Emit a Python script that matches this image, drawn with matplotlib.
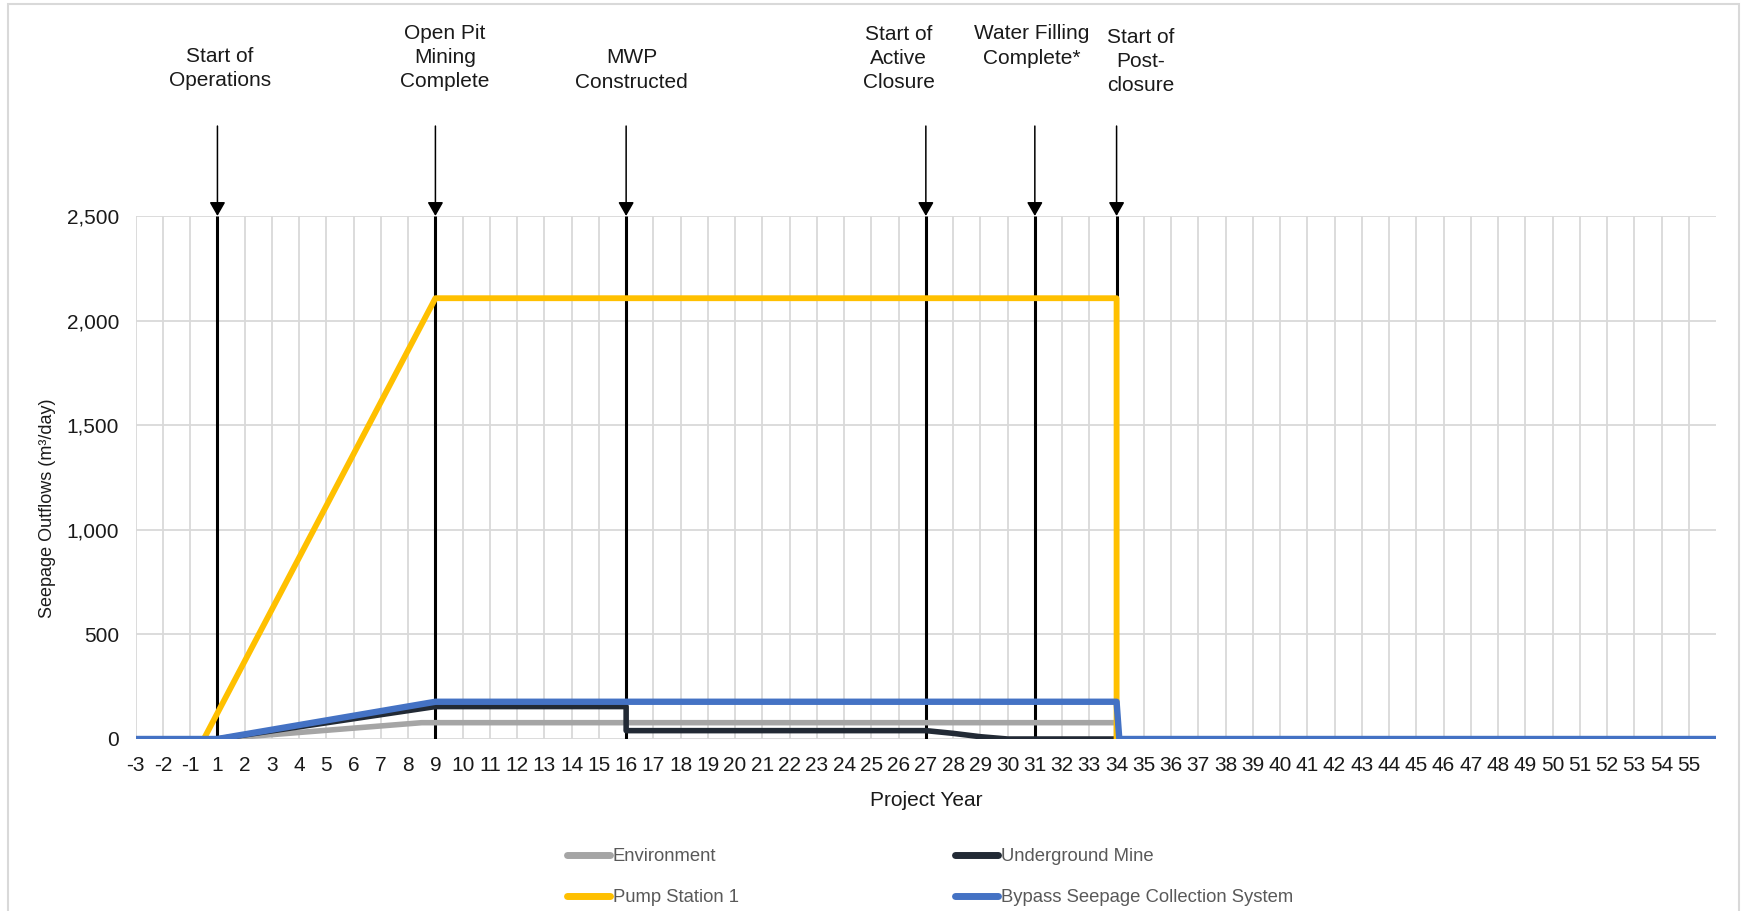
import matplotlib
matplotlib.use("Agg")
import matplotlib.pyplot as plt
from matplotlib.patches import Rectangle
from matplotlib import font_manager

# ---------------------------------------------------------------- data
# category labels on the x axis (there is no year 0)
year_labels = [-3, -2, -1] + list(range(1, 56))

env_years = [-3, 1, 8.5, 34, 34, 56]
env_flow = [0, 0, 78, 78, 0, 0]

ug_years = [-3, 1, 9, 16, 16, 27, 28, 29, 30, 34, 56]
ug_flow = [0, 0, 155, 155, 40, 40, 27, 11, 0, 0, 0]

ps1_years = [-3, 0, 9, 34, 34, 56]
ps1_flow = [0, 0, 2107, 2107, 0, 0]

bypass_years = [-3, 1, 9, 34, 34.1, 56]
bypass_flow = [0, 0, 178, 178, 0, 0]

event_years = [1, 9, 16, 27, 31, 34]
event_labels = ["Start of\nOperations", "Open Pit\nMining\nComplete",
                "MWP\nConstructed", "Start of\nActive\nClosure",
                "Water Filling\nComplete*", "Start of\nPost-\nclosure"]

y_ticks = [0, 500, 1000, 1500, 2000, 2500]


def cat_pos(year):
    """Map a project year onto the category axis (-3,-2,-1,1,2,...)."""
    if year <= -1:
        return year + 3
    if year >= 1:
        return year + 2
    return 2 + (year + 1) / 2.0


# ---------------------------------------------------------------- fonts
avail = {f.name for f in font_manager.fontManager.ttflist}
main_font = "Liberation Sans" if "Liberation Sans" in avail else "DejaVu Sans"
plt.rcParams["font.family"] = [main_font, "DejaVu Sans"]

TXT = "#1a1a1a"

fig = plt.figure(figsize=(17.43, 9.11), dpi=100)
W, H = 1743, 911
AX_L, AX_R, AX_B, AX_T = 135.7, 1716.0, 739.0, 216.0
ax = fig.add_axes([AX_L / W, 1 - AX_B / H, (AX_R - AX_L) / W, (AX_B - AX_T) / H])

# outer chart border
fig.add_artist(Rectangle((8 / W, -0.05), (1739 - 8) / W, 1 - 4 / H + 0.05,
                         transform=fig.transFigure, fill=False,
                         edgecolor="#d9d9d9", lw=1.5))

ax.set_xlim(0, 58)
ax.set_ylim(0, 2500)
for s in ax.spines.values():
    s.set_visible(False)

ax.set_xticks([cat_pos(y) for y in year_labels])
ax.set_xticklabels([str(y) for y in year_labels])
ax.set_yticks(y_ticks)
ax.set_yticklabels([f"{v:,}" for v in y_ticks])
ax.tick_params(axis="both", length=0, labelsize=15, colors=TXT)
ax.tick_params(axis="x", pad=12)
ax.tick_params(axis="y", pad=12)
ax.grid(True, color="#d9d9d9", lw=1.3)
ax.set_axisbelow(True)

# milestone lines with arrows pointing down onto them
for yr in event_years:
    p = cat_pos(yr)
    ax.plot([p, p], [0, 2500], color="black", lw=2.2, zorder=2,
            solid_capstyle="butt")
    ax.annotate("", xy=(p, 2500), xytext=(p, 2930), annotation_clip=False,
                arrowprops=dict(arrowstyle="-|>,head_length=0.42,head_width=0.24",
                                mutation_scale=20, color="black", lw=1.1,
                                shrinkA=0, shrinkB=0))

# milestone captions: horizontal nudge (categories) and block centre (pixel row)
label_dx = [0.1, 0.35, 0.2, -1.0, -0.1, 0.9]
label_row = [68.5, 57.5, 70.0, 58.5, 46.0, 61.5]
for yr, lab, dx, row in zip(event_years, event_labels, label_dx, label_row):
    ax.text(cat_pos(yr) + dx, (AX_B - row) / (AX_B - AX_T) * 2500,
            lab, ha="center", va="center", fontsize=15, color=TXT,
            linespacing=1.34, clip_on=False)

# series
l_env, = ax.plot([cat_pos(y) for y in env_years], env_flow, color="#a5a5a5",
                 lw=4, zorder=3, label="Environment")
l_ug, = ax.plot([cat_pos(y) for y in ug_years], ug_flow, color="#222a35",
                lw=4, zorder=4, label="Underground Mine")
l_ps1, = ax.plot([cat_pos(y) for y in ps1_years], ps1_flow, color="#ffc000",
                 lw=4.2, zorder=5, label="Pump Station 1")
l_bp, = ax.plot([cat_pos(y) for y in bypass_years], bypass_flow, color="#4472c4",
                lw=4.6, zorder=6, label="Bypass Seepage Collection System")

ax.set_xlabel("Project Year", fontsize=15, color=TXT)
ax.xaxis.label.set_va("center")
ax.xaxis.set_label_coords(0.5, (AX_B - 800) / (AX_B - AX_T))

ax.set_ylabel("Seepage Outflows (m³/day)", fontsize=13, color=TXT)
ax.yaxis.label.set_va("center")
ax.yaxis.set_label_coords((47 - AX_L) / (AX_R - AX_L), (AX_B - 508) / (AX_B - AX_T))

leg = fig.legend(handles=[l_env, l_ps1, l_ug, l_bp], ncol=2,
                 loc="center left", bbox_to_anchor=(550 / W, 1 - 877 / H),
                 frameon=False, handlelength=2.35, handletextpad=0.15,
                 columnspacing=11.7, labelspacing=1.3,
                 prop={"size": 13.3})
for t in leg.get_texts():
    t.set_color("#595959")
for h in leg.legend_handles:
    h.set_solid_capstyle("round")
    h.set_linewidth(5)

fig.savefig("out.png", dpi=100)
